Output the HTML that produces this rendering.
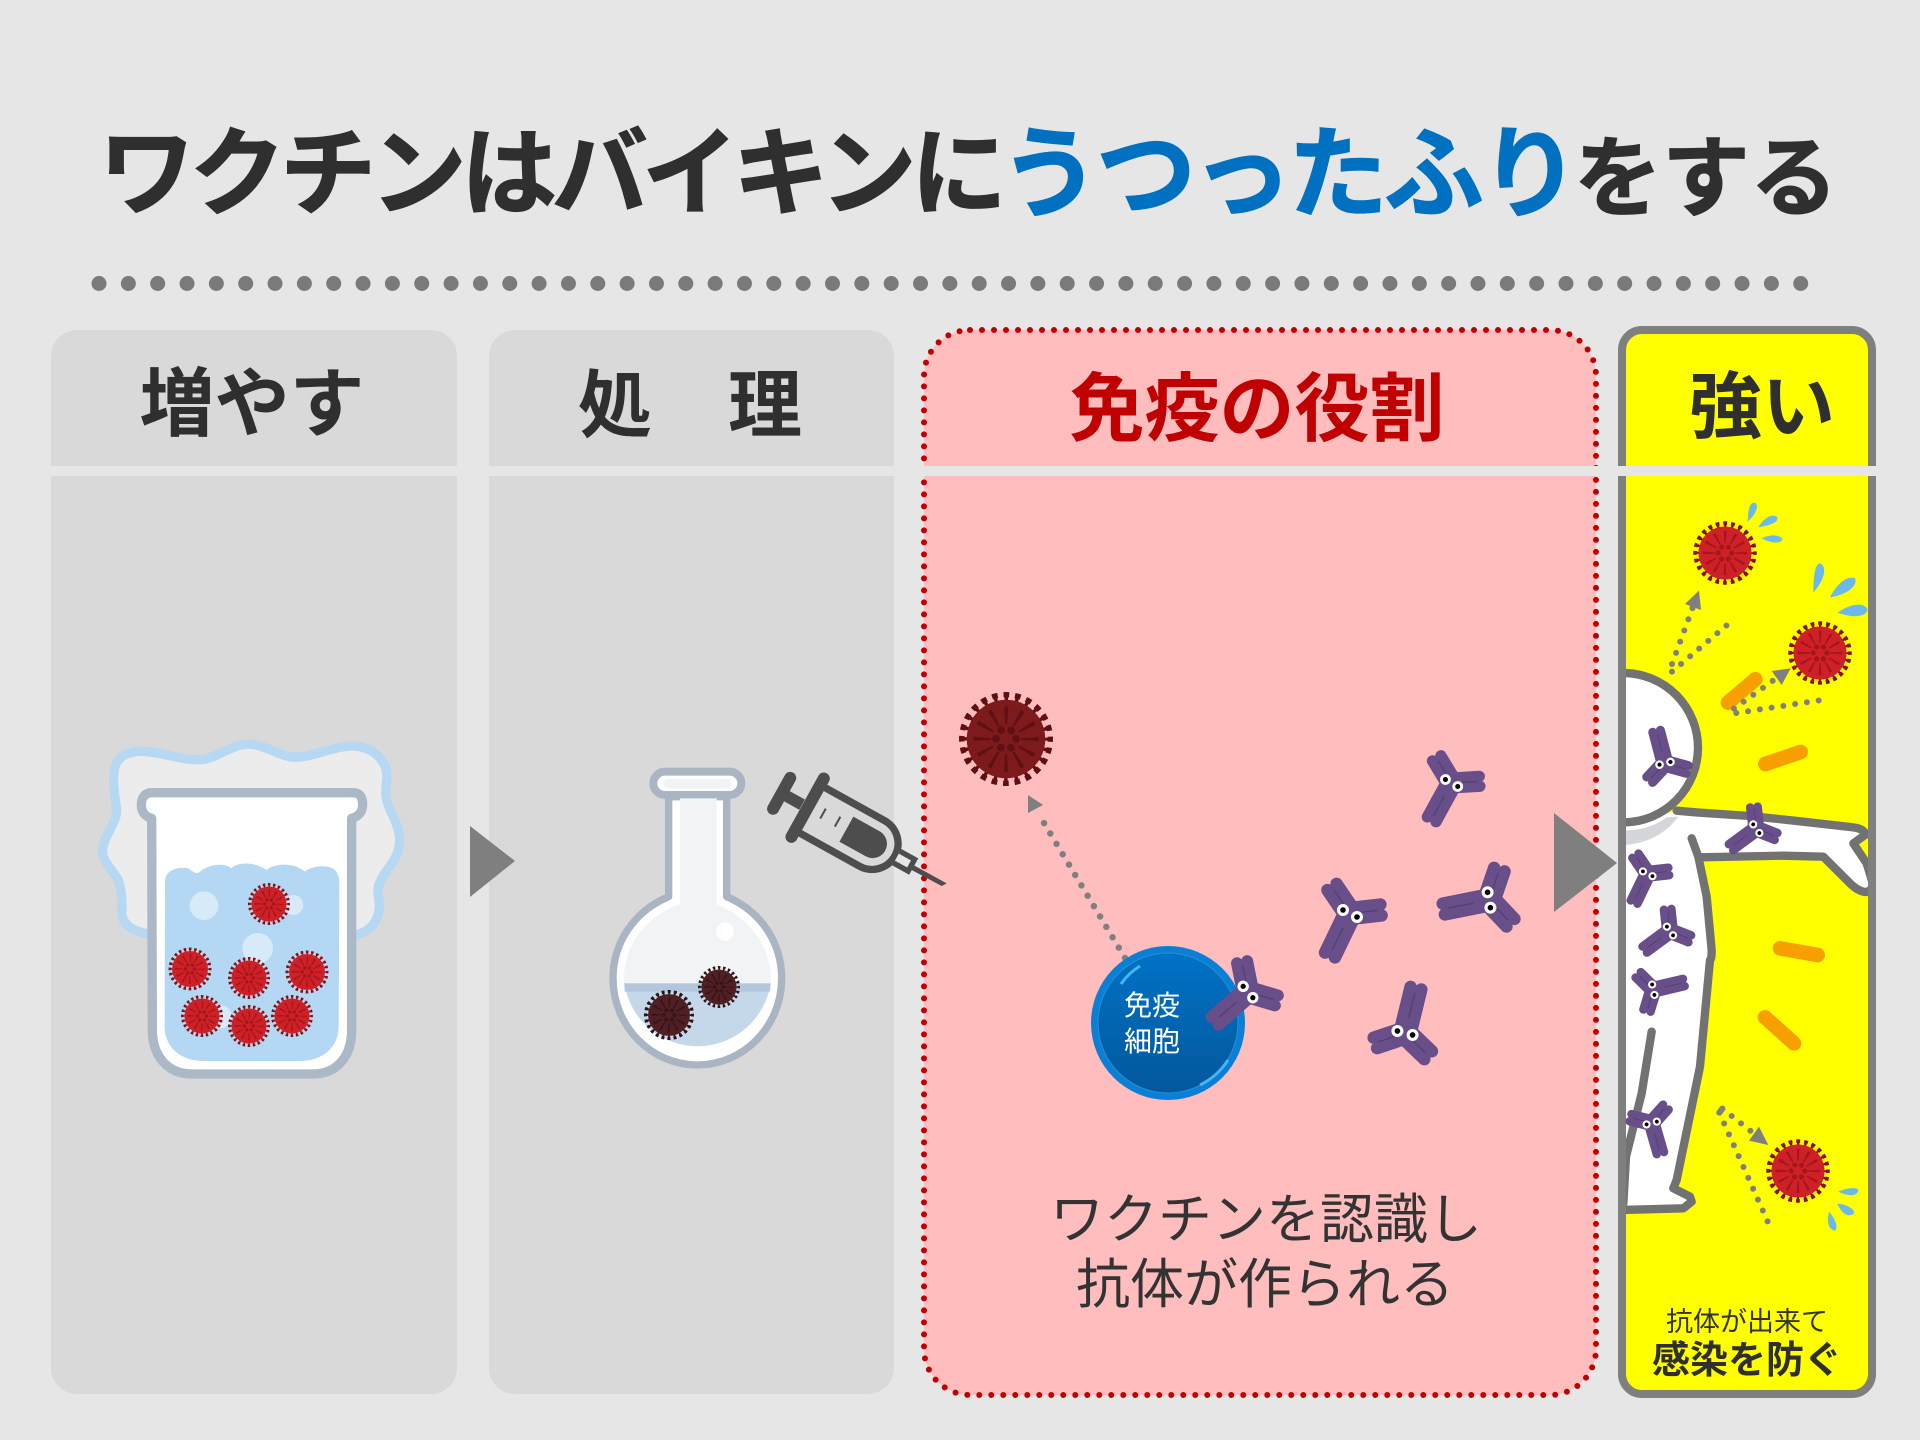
<!DOCTYPE html>
<html lang="ja"><head><meta charset="utf-8"><title>ワクチンはバイキンにうつったふりをする</title>
<style>
html,body{margin:0;padding:0;background:#e6e6e6}
svg{display:block}
text{font-family:"Liberation Sans","Noto Sans CJK JP",sans-serif}
.b{font-weight:700}
.v1{--b:#cf2027;--s:#8a0e14;--m:#a3161c}
.v2{--b:#4f1f23;--s:#2a1518;--m:#361417}
.v3{--b:#7d1a1c;--s:#5f0f13;--m:#5f1014}
</style></head><body>
<svg width="1920" height="1440" viewBox="0 0 1920 1440" xmlns="http://www.w3.org/2000/svg">
<defs>
<g id="virus">
<circle r="115" fill="none" stroke="var(--s)" stroke-width="14" stroke-dasharray="15 15.11" stroke-dashoffset="7.5"/>
<circle r="104" fill="none" stroke="var(--s)" stroke-width="14" stroke-dasharray="9 18.23" stroke-dashoffset="4.5"/>
<circle r="102" fill="var(--b)"/>
<circle r="62" fill="none" stroke="var(--m)" stroke-width="46" stroke-dasharray="8 24.47" stroke-dashoffset="4"/>
<circle r="26" fill="none" stroke="var(--m)" stroke-width="20" stroke-linecap="round" stroke-dasharray="0 27.2"/>
</g>
<g id="ab">
<g stroke="#684f8a" stroke-width="12.5" stroke-linecap="round">
<path d="M4.55-3.09L-13.45-29.59M-4.55 3.09L-22.55-23.41M.62 5.47L31.62 1.97M-.62-5.47L30.38-8.97M4.96 2.39L-15.04 43.89M-4.96-2.39L-24.96 39.11"/>
</g>
<circle r="10" fill="#684f8a"/>
<path d="M-6-9L-16-23.5M11-1.2L28-3.2M-7 14.5L-18 37" stroke="#544070" stroke-width="1.4" fill="none"/>
<circle cx="-7" cy="-3.5" r="6" fill="#fff"/><circle cx="7" cy="3.5" r="6" fill="#fff"/>
<circle cx="-7" cy="-3.5" r="2.8" fill="#000"/><circle cx="7" cy="3.5" r="2.8" fill="#000"/>
</g>
<linearGradient id="cg" x1="0" y1="0" x2="0" y2="1"><stop offset="0" stop-color="#0072c6"/><stop offset="1" stop-color="#04589c"/></linearGradient>
<clipPath id="pc"><rect x="1626" y="334" width="242" height="1057" rx="14"/></clipPath>
</defs>

<rect width="1920" height="1440" fill="#e6e6e6"/>

<!-- title -->
<text class="b" x="99" y="207" font-size="96" fill="#2f2f2f" stroke="#2f2f2f" stroke-width="1.2" textLength="908" lengthAdjust="spacing">ワクチンはバイキンに</text>
<text class="b" x="1000" y="209" font-size="100" fill="#0070c0" stroke="#0070c0" stroke-width="1.2" textLength="580" lengthAdjust="spacing">うつったふり</text>
<text class="b" x="1574" y="209" font-size="88" fill="#2f2f2f" stroke="#2f2f2f" stroke-width="1" textLength="264" lengthAdjust="spacing">をする</text>

<path d="M99 283.5H1801" stroke="#7a7a7a" stroke-width="15" stroke-linecap="round" stroke-dasharray="0 29.34" fill="none"/>

<!-- panels -->
<rect x="51" y="330" width="406" height="1064" rx="26" fill="#d9d9d9"/>
<rect x="489" y="330" width="405" height="1064" rx="26" fill="#d9d9d9"/>
<rect x="924" y="330" width="672" height="1065" rx="46" fill="#ffbdbd"/>
<rect x="924" y="330" width="672" height="1065" rx="46" fill="none" stroke="#c00000" stroke-width="6" stroke-linecap="round" stroke-dasharray="0 12"/>
<rect x="1622" y="330" width="250" height="1064" rx="20" fill="#ffff00" stroke="#7f7f7f" stroke-width="8"/>

<!-- person + yellow panel artwork -->
<g clip-path="url(#pc)">
<g transform="translate(1600 480) scale(.33333)">
<path d="M60 1040L230 992L300 998L450 1005L600 1022L760 1040Q795 1045 795 1065L760 1090L800 1150L820 1215Q810 1240 790 1235Q770 1230 750 1210L670 1130L550 1125L300 1130L320 1250L335 1410Q335 1440 330 1440L300 1760L230 2100L220 2125L270 2150L275 2165L250 2185L60 2190Z" fill="#fff"/>
<circle cx="70" cy="803" r="224" fill="#fff" stroke="#727272" stroke-width="25"/>
<path d="M78 1095Q180 1085 235 1010L200 1012Q150 1050 70 1052Z" fill="#d4d6d9"/>
<path d="M230 992L300 998L450 1008L600 1024L760 1042Q795 1047 795 1065L760 1090L800 1150L820 1215Q810 1240 790 1235Q770 1230 750 1210L670 1130L550 1127L300 1132M275 1075L295 1130L320 1250L335 1410Q335 1440 330 1440L300 1760L230 2100L220 2125L270 2150L275 2165L250 2185L60 2190M155 1655L125 1840L78 2030L70 2170" fill="none" stroke="#727272" stroke-width="25" stroke-linecap="round" stroke-linejoin="round"/>
</g>
</g>
<g transform="translate(1600 480) scale(.33333)">
<g stroke="#f89f00" stroke-width="44" stroke-linecap="round" fill="none">
<path d="M384 668L466 598M496 852L602 816M540 1405L653 1425M495 1612L582 1690"/>
</g>
<g fill="#6ab9ea">
<path d="M443 125C445 100 445 70 462 68C480 72 470 100 443 125Z"/>
<path d="M475 142C490 115 515 100 530 110C540 125 515 135 475 142Z"/>
<path d="M485 175C505 165 535 160 548 178C540 192 515 190 485 175Z"/>
<path d="M640 337C640 290 645 250 660 250C685 260 670 305 640 337Z"/>
<path d="M690 352C710 310 745 285 765 295C775 320 735 345 690 352Z"/>
<path d="M713 398C750 370 795 365 803 390C795 415 750 412 713 398Z"/>
<path d="M715 2135C735 2125 770 2120 775 2130C772 2150 745 2150 715 2135Z"/>
<path d="M712 2172C730 2170 765 2185 762 2200C745 2215 725 2200 712 2172Z"/>
<path d="M687 2195C700 2210 718 2240 705 2252C685 2250 680 2225 687 2195Z"/>
</g>
<g stroke="#7f7f7f" stroke-width="18" stroke-linecap="round" fill="none" stroke-dasharray="0 35.7">
<path d="M216 552L278 383"/>
<path d="M216 575L381 435"/>
<path d="M402 686L519 602"/>
<path d="M409 699L659 661"/>
<path d="M367 1886L452 1953"/>
<path d="M358 1898L504 2227"/>
<path d="M358 1898L367 1886" stroke-dasharray="none"/>
</g>
<g fill="#7f7f7f">
<path d="M297 332L255 372L303 390Z"/>
<path d="M572 565L515 573L545 615Z"/>
<path d="M505 1995L447 1982L477 1940Z"/>
</g>
</g>
<use href="#virus" class="v1" transform="translate(1725 553) scale(.26)"/>
<use href="#virus" class="v1" transform="translate(1820 653) scale(.26)"/>
<use href="#virus" class="v1" transform="translate(1798 1171) scale(.26)"/>
<use href="#ab" transform="translate(1665 763.3) rotate(139.6) scale(.72)"/>
<use href="#ab" transform="translate(1756.3 828.7) rotate(28) scale(.68)"/>
<use href="#ab" transform="translate(1647.7 873.8) scale(.68)"/>
<use href="#ab" transform="translate(1670 931) rotate(28) scale(.68)"/>
<use href="#ab" transform="translate(1653.3 989.7) rotate(231) scale(.68)"/>
<use href="#ab" transform="translate(1651.7 1123) rotate(-41.8) scale(.68)"/>

<!-- header separator band -->
<rect x="0" y="466" width="1920" height="10" fill="#e6e6e6"/>

<!-- headers -->
<text class="b" x="252" y="430" font-size="75" fill="#2f2f2f" text-anchor="middle">増やす</text>
<text class="b" x="615" y="431" font-size="74" fill="#2f2f2f" text-anchor="middle">処</text>
<text class="b" x="765" y="431" font-size="74" fill="#2f2f2f" text-anchor="middle">理</text>
<text class="b" x="1257" y="435" font-size="75" fill="#c00000" text-anchor="middle">免疫の役割</text>
<text class="b" x="1762" y="432" font-size="73" fill="#2f2f2f" text-anchor="middle">強い</text>

<!-- beaker -->
<g transform="translate(60 700) scale(.33333)">
<path d="M255 700C220 690 190 680 185 640C188 600 185 570 175 540C150 500 125 480 128 450C130 410 170 370 170 330C165 290 155 240 165 200C175 165 215 150 260 155C320 160 380 185 430 178C480 170 510 135 565 132C620 135 660 172 710 172C770 168 830 135 885 138C950 145 985 190 980 240C975 280 975 300 995 340C1015 380 1025 420 1015 450C1005 490 965 520 955 560C950 590 965 610 955 640C945 680 920 695 890 705Z" fill="#ececec" stroke="#b6d8f2" stroke-width="28"/>
<path d="M275 355C255 350 244 335 244 315C244 292 255 278 275 278L880 278C900 278 908 292 908 315C908 335 895 350 875 355L875 990C875 1070 830 1122 760 1122L395 1122C325 1122 277 1070 277 990Z" fill="#fff" stroke="#abb8c6" stroke-width="28" stroke-linejoin="round"/>
<path d="M315 540C320 510 350 500 385 505C400 515 410 525 420 515C440 495 490 485 515 505C525 490 575 480 620 510C640 490 700 485 735 515C750 500 800 490 825 510C838 525 838 540 838 560L836 980C836 1040 790 1083 720 1083L430 1083C360 1083 314 1040 314 980Z" fill="#b4d8f3"/>
<g fill="#d7eaf8"><circle cx="432" cy="617" r="43"/><circle cx="593" cy="745" r="46"/><circle cx="700" cy="615" r="30"/><circle cx="480" cy="950" r="35"/></g>
</g>
<use href="#virus" class="v1" transform="translate(269 904) scale(.172)"/>
<use href="#virus" class="v1" transform="translate(190 969) scale(.176)"/>
<use href="#virus" class="v1" transform="translate(249 978) scale(.172)"/>
<use href="#virus" class="v1" transform="translate(307 972) scale(.176)"/>
<use href="#virus" class="v1" transform="translate(202 1016) scale(.172)"/>
<use href="#virus" class="v1" transform="translate(249 1026) scale(.172)"/>
<use href="#virus" class="v1" transform="translate(292 1016) scale(.172)"/>

<!-- flask -->
<g transform="translate(580 740) scale(.33333)">
<path d="M266 170L266 470C160 515 99 610 99 715C99 860 215 975 352 975C490 975 605 860 605 715C605 610 545 515 440 470L440 170Z" fill="#fff" stroke="#a9b5c2" stroke-width="22" stroke-linejoin="round"/>
<rect x="220" y="95" width="264" height="70" rx="35" fill="#fff" stroke="#a9b5c2" stroke-width="24"/>
<rect x="250" y="117" width="205" height="28" rx="14" fill="#f2f3f5"/>
<path d="M300 175L300 492C190 535 132 620 132 715L572 715C572 620 510 535 410 492L410 175Z" fill="#f2f3f5"/>
<path d="M132 715H572V732H132Z" fill="#f2f3f5"/>
<path d="M133 730L572 730A222 222 0 0 1 133 730Z" fill="#c5d8ea"/>
<path d="M133 730L572 730L570 755L134 755Z" fill="#b3c6dc"/>
<ellipse cx="435" cy="575" rx="26" ry="28" fill="#fff"/>
</g>
<use href="#virus" class="v2" transform="translate(669 1015) scale(.205)"/>
<use href="#virus" class="v2" transform="translate(719 987) scale(.172)"/>

<!-- syringe -->
<g transform="translate(580 740) scale(.33333)" fill="none" stroke="#4d4d4d">
<g transform="translate(605 160) rotate(29)">
<path d="M0-53V53" stroke-width="36" stroke-linecap="round"/>
<path d="M0 0H70" stroke-width="35"/>
<path d="M89-100V100" stroke-width="36" stroke-linecap="round"/>
<path d="M89-78L310-78A78 78 0 0 1 310 78L89 78" stroke-width="22"/>
<path d="M222-43L312-43A43 43 0 0 1 312 43L222 43Z" fill="#4d4d4d" stroke="none"/>
<path d="M138-24V10M188-24V10" stroke-width="6"/>
<path d="M395-20H445V20H395" stroke-width="16" fill="#e6e6e6"/>
</g>
<path d="M1000 375L1100 430L1085 438L995 390Z" fill="#4d4d4d" stroke="none"/>
</g>

<!-- panel 3 artwork -->
<use href="#virus" class="v3" transform="translate(1006 739) scale(.385)"/>
<path d="M1125 958L1038 813" stroke="#7f7f7f" stroke-width="6.5" stroke-linecap="round" stroke-dasharray="0 12.1" fill="none"/>
<path d="M1028 795L1028 813L1043 805Z" fill="#7f7f7f"/>
<circle cx="1168" cy="1023" r="77" fill="#0a7fd6"/>
<circle cx="1168" cy="1023" r="70" fill="url(#cg)" stroke="#2b8fd0" stroke-width="1"/>
<path d="M1121 984A62 62 0 0 1 1140 966" stroke="#49b4f4" stroke-width="3" fill="none"/>
<path d="M1228 1060A70 70 0 0 1 1200 1085" stroke="#49b4f4" stroke-width="3" fill="none"/>
<text x="1152" y="1015" font-size="28" fill="#fff" text-anchor="middle">免疫</text>
<text x="1152" y="1051" font-size="28" fill="#fff" text-anchor="middle">細胞</text>
<use href="#ab" transform="translate(1248 992) rotate(23) scale(.95)"/>
<use href="#ab" transform="translate(1451.6 783) rotate(3) scale(.9)"/>
<use href="#ab" transform="translate(1350 913.5)"/>
<use href="#ab" transform="translate(1489 900) rotate(53)"/>
<use href="#ab" transform="translate(1405 1033) rotate(168)"/>

<text x="1266" y="1238" font-size="54" fill="#333" text-anchor="middle">ワクチンを認識し</text>
<text x="1265" y="1303" font-size="54" fill="#333" text-anchor="middle">抗体が作られる</text>

<!-- big arrows -->
<path d="M470 826L515 861L470 897Z" fill="#7f7f7f"/>
<path d="M1554 813L1617 863L1554 912Z" fill="#7f7f7f"/>

<text x="1747" y="1331" font-size="27" fill="#333" text-anchor="middle">抗体が出来て</text>
<text class="b" x="1747" y="1373" font-size="38" fill="#2f2f2f" text-anchor="middle">感染を防ぐ</text>
</svg>
</body></html>
